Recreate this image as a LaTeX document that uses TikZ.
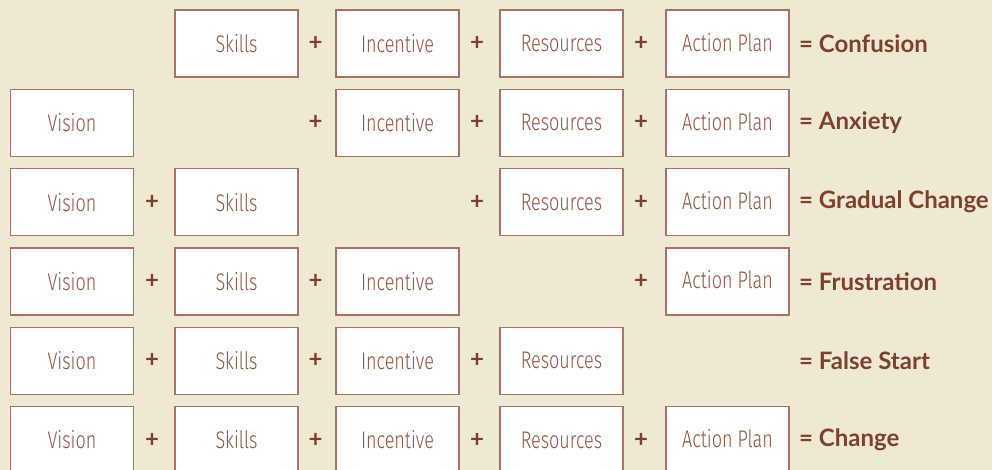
\documentclass[tikz,border=0pt]{standalone}
\usepackage{fontspec}
\usepackage{tikz}
\usetikzlibrary{positioning}
\newfontfamily\boxfont[FakeStretch=0.75]{Fira Sans Light}
\newfontfamily\sumfont{Lato}
\definecolor{paper}{RGB}{239,233,211}
\definecolor{rust}{RGB}{125,64,46}
\definecolor{rustline}{RGB}{166,116,100}
\definecolor{rusttext}{RGB}{142,84,66}
\tikzstyle{factor}=[rectangle,draw=rustline,fill=white,line width=1.2pt,minimum width=123pt,minimum height=67pt,inner sep=0pt,text=rusttext,font=\boxfont\fontsize{24}{24}\selectfont]
\tikzstyle{plus}=[inner sep=0pt,text=rust,font=\sumfont\bfseries\fontsize{24}{24}\selectfont]
\tikzstyle{outcome}=[anchor=west,inner sep=0pt,text=rust,font=\sumfont\bfseries\fontsize{24}{24}\selectfont]

\begin{document}
\begin{tikzpicture}[x=1pt,y=-1pt]
    % page and background
    \fill[paper] (0,0) rectangle (992,470);
    \useasboundingbox (0,0) rectangle (992,470);

    % First we draw the boxes, row by row
    \foreach \pos/\name/\label in {{(236.5,43.5)/S1/Skills}, {(397.5,43.5)/I1/Incentive}, {(561.5,43.5)/R1/Resources}, {(727.5,43.5)/A1/\raisebox{3pt}{Action Plan}},
    {(72,122.8)/V2/Vision}, {(397.5,122.8)/I2/Incentive}, {(561.5,122.8)/R2/Resources}, {(727.5,122.8)/A2/\raisebox{3pt}{Action Plan}},
    {(72,202.1)/V3/Vision}, {(236.5,202.1)/S3/Skills}, {(561.5,202.1)/R3/Resources}, {(727.5,202.1)/A3/\raisebox{3pt}{Action Plan}},
    {(72,281.4)/V4/Vision}, {(236.5,281.4)/S4/Skills}, {(397.5,281.4)/I4/Incentive}, {(727.5,281.4)/A4/\raisebox{3pt}{Action Plan}},
    {(72,360.7)/V5/Vision}, {(236.5,360.7)/S5/Skills}, {(397.5,360.7)/I5/Incentive}, {(561.5,360.7)/R5/Resources},
    {(72,440)/V6/Vision}, {(236.5,440)/S6/Skills}, {(397.5,440)/I6/Incentive}, {(561.5,440)/R6/Resources}, {(727.5,440)/A6/\raisebox{3pt}{Action Plan}}}
        \node[factor] (\name) at \pos {\label};

    % Then the plus signs between them
    \foreach \pos/\name in {{(315.5,43.5)/p12}, {(477,43.5)/p13}, {(641,43.5)/p14},
    {(315.5,122.8)/p22}, {(477,122.8)/p23}, {(641,122.8)/p24},
    {(152,202.1)/p31}, {(477,202.1)/p33}, {(641,202.1)/p34},
    {(152,281.4)/p41}, {(315.5,281.4)/p42}, {(641,281.4)/p44},
    {(152,360.7)/p51}, {(315.5,360.7)/p52}, {(477,360.7)/p53},
    {(152,440)/p61}, {(315.5,440)/p62}, {(477,440)/p63}, {(641,440)/p64}}
        \node[plus] (\name) at \pos {+};

    % what each row adds up to
    \node[outcome] (out1) at (799,43.5) {= Confusion};
    \node[outcome] (out2) at (799,122.8) {= Anxiety};
    \node[outcome] (out3) at (799,202.1) {= Gradual Change};
    \node[outcome] (out4) at (799,281.4) {= Frustration};
    \node[outcome] (out5) at (799,360.7) {= False Start};
    \node[outcome] (out6) at (799,440) {= Change};
\end{tikzpicture}
\end{document}
